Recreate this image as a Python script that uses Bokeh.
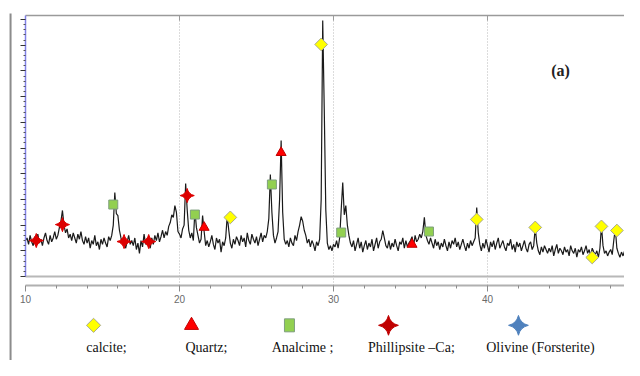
from bokeh.plotting import figure
from bokeh.models import LinearAxis, FixedTicker, CustomJSTickFormatter
from bokeh.core.properties import value
from bokeh.embed import file_html
from bokeh.resources import INLINE

# ---------------- data ----------------
scan_start = 10.0
scan_step = 0.1
intensity = [
    140, 150, 125, 160, 135, 120, 155, 140, 165, 130,
    145, 120, 150, 170, 140, 125, 160, 135, 150, 175,
    145, 160, 190, 215, 257, 200, 170, 185, 150, 165,
    140, 170, 150, 130, 165, 145, 175, 140, 125, 155,
    130, 150, 110, 140, 125, 160, 120, 135, 105, 145,
    125, 150, 130, 115, 155, 140, 160, 200, 327, 245,
    237, 180, 150, 130, 145, 110, 135, 160, 125, 140,
    120, 150, 105, 130, 90, 140, 115, 165, 125, 145,
    130, 110, 150, 125, 160, 140, 170, 135, 155, 180,
    150, 175, 160, 195, 210, 240, 230, 276, 250, 175,
    165, 150, 185, 200, 362, 260, 180, 150, 170, 140,
    257, 190, 160, 130, 145, 237, 175, 120, 140, 115,
    135, 160, 125, 105, 150, 130, 145, 95, 135, 120,
    150, 237, 180, 130, 110, 145, 125, 155, 140, 120,
    160, 135, 150, 115, 170, 140, 125, 165, 145, 130,
    155, 120, 145, 170, 135, 160, 150, 175, 225, 397,
    250, 160, 130, 150, 175, 300, 529, 250, 145, 125,
    140, 115, 150, 130, 120, 160, 140, 175, 200, 233,
    215, 180, 160, 130, 145, 115, 140, 125, 100, 135,
    120, 145, 300, 996, 650, 260, 130, 105, 120, 100,
    125, 115, 140, 110, 150, 260, 366, 240, 276, 200,
    160, 130, 115, 140, 100, 125, 150, 110, 135, 95,
    120, 140, 105, 130, 115, 145, 100, 125, 150, 110,
    135, 145, 179, 150, 120, 110, 140, 105, 130, 115,
    145, 120, 100, 135, 125, 150, 110, 140, 115, 130,
    140, 155, 120, 160, 135, 145, 165, 150, 175, 230,
    160, 140, 125, 150, 130, 110, 145, 120, 135, 105,
    130, 115, 145, 120, 100, 135, 110, 140, 125, 150,
    115, 135, 105, 125, 145, 120, 100, 130, 110, 140,
    120, 135, 150, 268, 170, 125, 100, 130, 110, 145,
    120, 95, 135, 115, 140, 105, 130, 150, 110, 125,
    140, 115, 100, 130, 120, 145, 105, 125, 95, 135,
    115, 130, 100, 120, 140, 110, 95, 125, 135, 105,
    120, 190, 130, 100, 85, 115, 95, 120, 105, 90,
    110, 95, 120, 80, 105, 125, 90, 110, 100, 85,
    115, 95, 105, 80, 120, 100, 90, 110, 75, 105,
    95, 115, 85, 100, 120, 90, 105, 80, 110, 95,
    85, 100, 75, 110, 198, 120, 90, 100, 80, 95,
    105, 85, 140, 187, 110, 90, 75, 95, 80, 100,
    70, 90, 80, 95, 75, 90, 70, 85, 95, 80,
]
two_theta = [round(scan_start + scan_step * i, 2) for i in range(len(intensity))]

calcite_x = [23.3, 29.2, 39.3, 43.1, 46.8, 47.4, 48.4]
calcite_y = [230, 903, 222, 191, 74, 195, 179]
quartz_x = [21.6, 26.6, 35.1]
quartz_y = [191, 482, 125]
analcime_x = [15.7, 21.0, 26.0, 30.5, 36.2]
analcime_y = [280, 241, 358, 171, 175]
phillipsite_x = [10.7, 12.4, 16.4, 18.0, 20.5]
phillipsite_y = [140, 202, 136, 136, 315]

legend_labels = ["calcite;", "Quartz;", "Analcime ;", "Phillipsite \u2013Ca;", "Olivine (Forsterite)"]
x_major_ticks = [10, 20, 30, 40, 50]
x_minor_ticks = [12, 14, 16, 18, 22, 24, 26, 28, 32, 34, 36, 38, 42, 44, 46, 48]
grid_ticks = [20, 30, 40]
y_major_ticks = [0, 100, 200, 300, 400, 500, 600, 700, 800, 900, 1000]
y_minor_ticks = [v + d for v in range(0, 1000, 100) for d in (20, 40, 60, 80)]

# ---------------- layout constants ----------------
X0, X1 = 8.377, 48.896
Y0, Y1 = -326.8, 1073.9
TOP = 1015.6
XAXIS_Y = -35.0
LEG_MARK_Y = -190.0
LEG_TEXT_Y = -276.0
leg_mark_x = [14.42, 20.78, 27.14, 33.57, 42.01]
leg_text_x = [15.26, 21.75, 27.99, 35.06, 43.44]
QUARTER = 0.7854

YELLOW, YEL_LINE = "#ffff00", "#a8a890"
RED, RED_LINE = "#ff0000", "#c00000"
GREEN, GREEN_LINE = "#92d050", "#7f9f7f"
DRED = "#c00000"
BLUE = "#4f81bd"

p = figure(width=624, height=360, x_range=(X0, X1), y_range=(Y0, Y1),
           x_axis_location=None, y_axis_location=None,
           output_backend="svg", toolbar_location=None, min_border=0,
           outline_line_color=None, background_fill_color="white",
           border_fill_color="white")
for g in p.grid:
    g.visible = False

# page border line at far left
p.segment(x0=[9.03], y0=[1023], x1=[9.03], y1=[Y0], line_color="#8c8c8c", line_width=2)

# dotted grid lines
p.segment(x0=grid_ticks, y0=[XAXIS_Y] * 3, x1=grid_ticks, y1=[TOP] * 3,
          line_color="#b8b8b8", line_dash="1 2", line_width=1)
p.segment(x0=grid_ticks, y0=[TOP - 20] * 3, x1=grid_ticks, y1=[TOP] * 3,
          line_color="#9a9a9a", line_width=1)

# frame lines (top and lower)
p.segment(x0=[10, 10], y0=[TOP, 0], x1=[X1, X1], y1=[TOP, 0],
          line_color=["#9a9a9a", "#b8b8b8"], line_width=[1.5, 2])

# x axis
xa = LinearAxis(fixed_location=XAXIS_Y, bounds=(10, X1),
                ticker=FixedTicker(ticks=x_major_ticks, minor_ticks=x_minor_ticks))
xa.axis_line_color = "#b0b0b0"
xa.axis_line_width = 2
xa.major_tick_line_color = "#8a8a8a"
xa.major_tick_out = 6
xa.major_tick_in = 0
xa.minor_tick_line_color = "#8a8a8a"
xa.minor_tick_out = 3
xa.minor_tick_in = 0
xa.major_label_text_font = "Liberation Sans"
xa.major_label_text_font_size = "10px"
xa.major_label_text_color = "#6a6a6a"
xa.major_label_standoff = 3
p.add_layout(xa, "below")

# y axis (blue, ticks only)
ya = LinearAxis(fixed_location=10, bounds=(0, TOP),
                ticker=FixedTicker(ticks=y_major_ticks, minor_ticks=y_minor_ticks),
                formatter=CustomJSTickFormatter(code="return ''"))
ya.axis_line_color = "#8080e6"
ya.axis_line_width = 1.5
ya.major_tick_line_color = "#333333"
ya.major_tick_out = 5
ya.major_tick_in = 0
ya.minor_tick_line_color = "#555555"
ya.minor_tick_out = 2
ya.minor_tick_in = 0
p.add_layout(ya, "left")

# diffraction trace
p.line(two_theta, intensity, line_color="#1a1a1a", line_width=1.2)

# phase markers
p.scatter(calcite_x, calcite_y, marker="square", size=9, angle=QUARTER,
          fill_color=YELLOW, line_color=YEL_LINE, line_width=1)
p.scatter(quartz_x, quartz_y, marker="triangle", size=10,
          fill_color=RED, line_color=RED_LINE, line_width=1)
p.scatter(analcime_x, analcime_y, marker="square", size=9,
          fill_color=GREEN, line_color=GREEN_LINE, line_width=1)
p.scatter(phillipsite_x, phillipsite_y, marker="square_pin", size=10, angle=QUARTER,
          fill_color="#dd0000", line_color="#dd0000", line_width=1)

# legend (marker above label)
p.scatter([leg_mark_x[0]], [LEG_MARK_Y], marker="square", size=10, angle=QUARTER,
          fill_color=YELLOW, line_color=YEL_LINE, line_width=1)
p.scatter([leg_mark_x[1]], [LEG_MARK_Y], marker="triangle", size=14,
          fill_color=RED, line_color=RED_LINE, line_width=1)
p.rect([leg_mark_x[2]], [LEG_MARK_Y], width=10, height=13,
       width_units="screen", height_units="screen",
       fill_color=GREEN, line_color=GREEN_LINE, line_width=1)
p.scatter([leg_mark_x[3]], [LEG_MARK_Y], marker="square_pin", size=14, angle=QUARTER,
          fill_color=DRED, line_color=DRED, line_width=1)
p.scatter([leg_mark_x[4]], [LEG_MARK_Y], marker="square_pin", size=14, angle=QUARTER,
          fill_color=BLUE, line_color=BLUE, line_width=1)
p.text(leg_text_x, [LEG_TEXT_Y] * len(legend_labels), text=legend_labels,
       text_font=value("Liberation Serif"), text_font_size="14px",
       text_color="#111111", text_align="center", text_baseline="middle")

# panel label
p.text([44.74], [801.6], text=["(a)"], text_font=value("Liberation Serif"),
       text_font_size="16px", text_font_style="bold", text_color="#222222",
       text_align="center", text_baseline="middle")

open("out.html", "w").write(file_html(p, INLINE))
